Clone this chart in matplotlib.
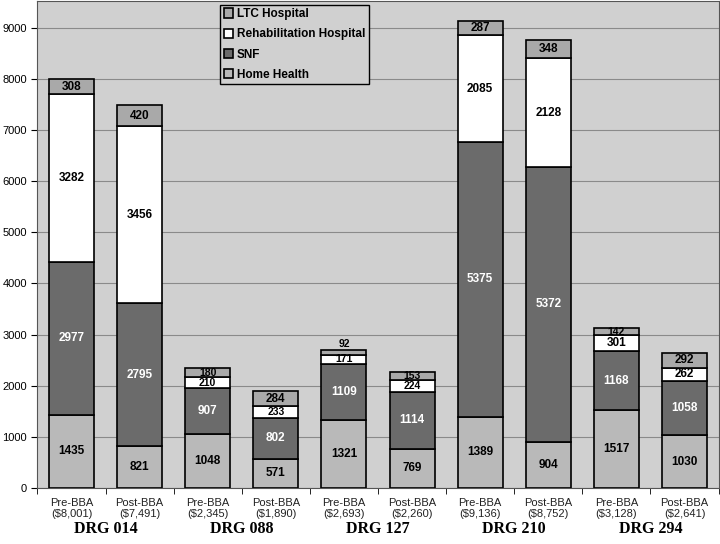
import matplotlib
matplotlib.use("Agg")
import matplotlib.pyplot as plt
import numpy as np

plt.rcParams['font.family'] = ['Liberation Sans', 'DejaVu Sans']

# data
bar_labels = ["Pre-BBA\n($8,001)", "Post-BBA\n($7,491)",
              "Pre-BBA\n($2,345)", "Post-BBA\n($1,890)",
              "Pre-BBA\n($2,693)", "Post-BBA\n($2,260)",
              "Pre-BBA\n($9,136)", "Post-BBA\n($8,752)",
              "Pre-BBA\n($3,128)", "Post-BBA\n($2,641)"]
groups = ["DRG 014", "DRG 088", "DRG 127", "DRG 210", "DRG 294"]
home_health = [1435, 821, 1048, 571, 1321, 769, 1389, 904, 1517, 1030]
snf = [2977, 2795, 907, 802, 1109, 1114, 5375, 5372, 1168, 1058]
rehab = [3282, 3456, 210, 233, 171, 224, 2085, 2128, 301, 262]
ltc = [308, 420, 180, 284, 92, 153, 287, 348, 142, 292]

series = [("Home Health", home_health, "#b9b9b9", "black"),
          ("SNF", snf, "#6b6b6b", "white"),
          ("Rehabilitation Hospital", rehab, "#ffffff", "black"),
          ("LTC Hospital", ltc, "#a9a9a9", "black")]

fig = plt.figure(figsize=(7.2, 5.44), dpi=100)
ax = fig.add_axes([0.052, 0.103, 0.946, 0.895])
ax.set_facecolor("#d0d0d0")

x = np.arange(len(bar_labels))
bottom = np.zeros(len(x))
handles = []
for name, vals, color, tcolor in series:
    vals = np.array(vals)
    b = ax.bar(x, vals, 0.66, bottom=bottom, color=color,
               edgecolor="black", linewidth=1.2, zorder=3, label=name)
    handles.append(b)
    for xi, v, bt in zip(x, vals, bottom):
        # thin segments get a smaller label so neighbours don't collide
        fs = 7.5 if v < 240 else 8.5
        if v < 120:
            ax.text(xi, bt + v + 20, str(v), ha="center", va="bottom",
                    fontsize=fs, fontweight="bold", color=tcolor, zorder=4)
        else:
            ax.text(xi, bt + v / 2, str(v), ha="center", va="center",
                    fontsize=fs, fontweight="bold", color=tcolor, zorder=4)
    bottom = bottom + vals

ax.set_xlim(-0.5, len(x) - 0.5)
ax.set_ylim(0, 9520)
ax.set_yticks(range(0, 9001, 1000))
ax.yaxis.grid(True, color="#8a8a8a", linewidth=0.8, zorder=0)
ax.tick_params(axis="y", labelsize=8, length=4)
ax.set_xticks(x)
ax.set_xticklabels(bar_labels, fontsize=8, color="#222222")
ax.tick_params(axis="x", length=0, pad=7)
ax.set_xticks(np.arange(-0.5, len(x), 1), minor=True)
ax.tick_params(axis="x", which="minor", length=4)
for s in ax.spines.values():
    s.set_color("#555555")

for i, g in enumerate(groups):
    ax.text(2 * i + 0.5, -0.085, g, transform=ax.get_xaxis_transform(),
            ha="center", va="center", fontsize=11.5, fontweight="bold",
            family="Liberation Serif")

leg = ax.legend(handles[::-1], [s[0] for s in series][::-1],
                loc="upper left", bbox_to_anchor=(0.26, 1.005),
                prop={"weight": "bold", "size": 8.5},
                frameon=True, fancybox=False, framealpha=1,
                facecolor="#d0d0d0", edgecolor="black",
                handlelength=0.8, handleheight=0.8, handletextpad=0.3,
                labelspacing=0.7, borderpad=0.3)
leg.get_frame().set_linewidth(1.0)
leg.set_zorder(5)

fig.savefig("out.png", dpi=100)
